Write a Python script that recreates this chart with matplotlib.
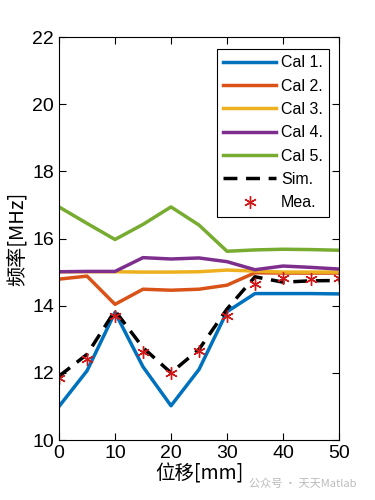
import numpy as np
import matplotlib
matplotlib.use('Agg')
import matplotlib.pyplot as plt

plt.rcParams['font.family'] = ['Liberation Sans', 'Noto Sans CJK SC', 'DejaVu Sans']

## Data
x = [0, 5, 10, 15, 20, 25, 30, 35, 40, 45, 50]
cal1 = [11.0, 12.06, 13.8, 12.18, 11.02, 12.1, 13.82, 14.36, 14.36, 14.36, 14.35]
cal2 = [14.79, 14.88, 14.04, 14.49, 14.46, 14.49, 14.61, 14.98, 14.97, 14.97, 14.97]
cal3 = [15.01, 15.01, 15.01, 15.0, 15.0, 15.01, 15.06, 15.03, 15.0, 15.0, 15.0]
cal4 = [15.01, 15.02, 15.02, 15.43, 15.39, 15.42, 15.31, 15.07, 15.18, 15.14, 15.09]
cal5 = [16.94, 16.45, 15.97, 16.42, 16.94, 16.4, 15.62, 15.66, 15.68, 15.67, 15.65]
sim = [11.9, 12.55, 13.85, 12.75, 12.0, 12.7, 13.9, 14.86, 14.7, 14.74, 14.75]
mea = [11.85, 12.42, 13.69, 12.63, 12.0, 12.65, 13.69, 14.66, 14.81, 14.79, 14.81]

labels = ['Cal 1.', 'Cal 2.', 'Cal 3.', 'Cal 4.', 'Cal 5.']
colors = ['#0072BD', '#D95319', '#EDB120', '#7E2F8E', '#77AC30']

##

fig = plt.figure(figsize=(3.75, 5), dpi=100)
ax = fig.add_axes([59/375, 60/500, 280/375, 403/500])

for ys, lab, c in zip([cal1, cal2, cal3, cal4, cal5], labels, colors):
    ax.plot(x, ys, color=c, lw=2.5, label=lab)
ax.plot(x, sim, 'k--', lw=2.5, dashes=(4, 2.5), label='Sim.')
ax.plot(x, mea, ls='none', marker=(6, 2, 0), color='#D01818', ms=9, mew=1.0,
        label='Mea.')

ax.set_xlim(0, 50)
ax.set_ylim(10, 22)
ax.set_xticks(range(0, 51, 10))
ax.set_yticks(range(10, 23, 2))
ax.tick_params(direction='in', top=True, right=True, labelsize=14, length=5, width=0.8)
for s in ax.spines.values():
    s.set_linewidth(0.8)

ax.set_xlabel('位移[mm]', fontsize=14, family=['Noto Sans CJK SC', 'DejaVu Sans'], labelpad=1)
ax.set_ylabel('频率[MHz]', fontsize=14.5, family=['Noto Sans CJK SC', 'DejaVu Sans'], labelpad=3)

leg = ax.legend(loc='upper right', fontsize=11.5, handlelength=3.3, handletextpad=0.3,
                labelspacing=0.52, borderpad=0.4, fancybox=False, framealpha=1,
                edgecolor='k', bbox_to_anchor=(0.965, 0.97), borderaxespad=0)
leg.get_frame().set_linewidth(0.8)

fig.text(0.665, 0.026, '公众号 · 天天Matlab', fontsize=8, color='#bbbbbb',
         family=['Noto Sans CJK SC', 'DejaVu Sans'])

fig.savefig('out.png', dpi=100)
